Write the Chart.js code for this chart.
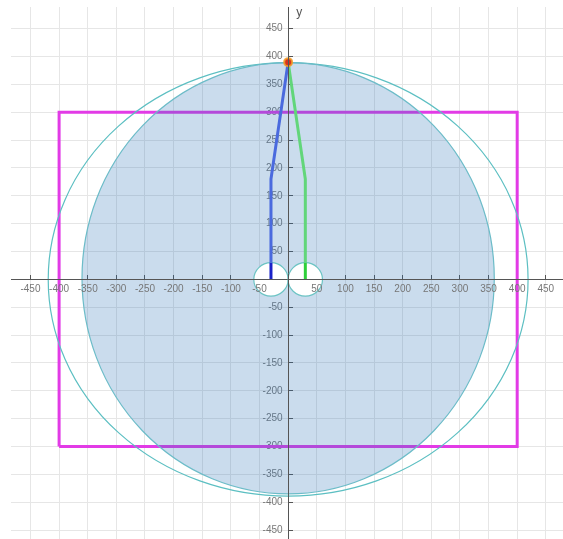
<!DOCTYPE html>
<html>
<head>
    <title>Leg geometry sketch</title>
    <script src="https://cdn.jsdelivr.net/npm/chart.js"></script>
    <style>
        html, body { margin: 0; padding: 0; background: #fff; overflow: hidden; }
        canvas { display: block; }
    </style>
</head>
<body>
    <canvas id="sketch" width="563" height="539"></canvas>

    <script>
        // axis ranges (units)
        const xRange = [-484, 480];
        const yRange = [-466, 489];
        const tickStep = 50;

        // magenta frame corners
        const frameX = [-400, -400, 400, 400, -400];
        const frameY = [-300, 300, 300, -300, -300];

        // ellipses: [cx, cy, rx, ry]
        const outerEllipse = [0, 0, 419, 389];
        const bodyEllipse = [0, 2, 360, 387];
        // joint circles: [cx, cy, r]
        const joints = [[-30, 0, 30], [30, 0, 30]];

        // legs
        const leftLegX = [-30, -30, -30, 0];
        const leftLegY = [0, 30, 180, 390];
        const rightLegX = [30, 30, 30, 0];
        const rightLegY = [0, 30, 180, 390];

        // apex point
        const apex = [0, 390];

        const toPoints = (xs, ys) => xs.map((x, i) => ({ x: x, y: ys[i] }));

        function ellipsePath(chart, cx, cy, rx, ry) {
            const xs = chart.scales.x, ys = chart.scales.y;
            const px = xs.getPixelForValue(cx), py = ys.getPixelForValue(cy);
            const prx = Math.abs(xs.getPixelForValue(cx + rx) - px);
            const pry = Math.abs(ys.getPixelForValue(cy + ry) - py);
            const ctx = chart.ctx;
            ctx.beginPath();
            ctx.ellipse(px, py, prx, pry, 0, 0, Math.PI * 2);
        }

        // shapes go right after the frame so the fill tints it
        const shapesPlugin = {
            id: 'shapes',
            afterDatasetDraw(chart, args) {
                if (chart.data.datasets[args.index].id !== 'frame') return;
                const ctx = chart.ctx;
                const a = chart.chartArea;
                ctx.save();
                ctx.beginPath();
                ctx.rect(a.left, a.top, a.right - a.left, a.bottom - a.top);
                ctx.clip();

                ellipsePath(chart, ...outerEllipse);
                ctx.lineWidth = 1.2;
                ctx.strokeStyle = '#5cbfc2';
                ctx.stroke();

                ellipsePath(chart, ...bodyEllipse);
                ctx.fillStyle = 'rgba(45, 115, 185, 0.25)';
                ctx.fill();
                ctx.strokeStyle = '#6cbcc8';
                ctx.stroke();

                joints.forEach(j => {
                    ellipsePath(chart, j[0], j[1], j[2], j[2]);
                    ctx.fillStyle = '#ffffff';
                    ctx.fill();
                    ctx.strokeStyle = '#6cc4c4';
                    ctx.stroke();
                });
                ctx.restore();
            },
            afterDraw(chart) {
                const ctx = chart.ctx;
                ctx.save();
                ctx.fillStyle = '#555';
                ctx.font = '12px "Liberation Sans", Arial, sans-serif';
                ctx.textBaseline = 'middle';
                ctx.fillText('y', chart.scales.x.getPixelForValue(0) + 8, chart.chartArea.top + 6);
                ctx.restore();
            }
        };

        const legSegment = (dark, light) => ({
            borderColor: c => c.p0DataIndex === 0 ? dark : light
        });

        // axes sit inside the plot, so they should not eat into it
        const noPadding = scale => {
            scale.paddingLeft = 0;
            scale.paddingRight = 0;
            scale.paddingTop = 0;
            scale.paddingBottom = 0;
        };

        const tickFont = { size: 10, family: '"Liberation Sans", Arial, sans-serif' };

        new Chart(document.getElementById('sketch'), {
            type: 'scatter',
            data: {
                datasets: [
                    {
                        data: toPoints([apex[0]], [apex[1]]),
                        pointRadius: 4,
                        pointBackgroundColor: '#d8321e',
                        pointBorderColor: 'rgba(242, 160, 40, 0.85)',
                        pointBorderWidth: 2,
                        order: 0
                    },
                    {
                        data: toPoints(leftLegX, leftLegY),
                        showLine: true,
                        pointRadius: 0,
                        borderWidth: 3,
                        borderColor: '#4a6ade',
                        segment: legSegment('#1a22c8', '#4a6ade'),
                        order: 1
                    },
                    {
                        data: toPoints(rightLegX, rightLegY),
                        showLine: true,
                        pointRadius: 0,
                        borderWidth: 3,
                        borderColor: '#62d67a',
                        segment: legSegment('#2ed03a', '#62d67a'),
                        order: 1
                    },
                    {
                        id: 'frame',
                        data: toPoints(frameX, frameY),
                        showLine: true,
                        pointRadius: 0,
                        borderWidth: 3,
                        borderColor: '#e23be6',
                        order: 5
                    }
                ]
            },
            options: {
                responsive: false,
                animation: false,
                layout: { autoPadding: false, padding: { left: 11, top: 7, right: 0, bottom: 0 } },
                plugins: { legend: { display: false }, tooltip: { enabled: false } },
                scales: {
                    x: {
                        type: 'linear',
                        position: { y: 0 },
                        min: xRange[0],
                        max: xRange[1],
                        afterFit: noPadding,
                        grid: { color: '#e6e6e6', tickColor: '#555', tickLength: -5 },
                        border: { display: true, color: '#555', width: 1, z: 1 },
                        ticks: {
                            stepSize: tickStep,
                            includeBounds: false,
                            maxRotation: 0,
                            autoSkip: false,
                            padding: 9,
                            color: '#777',
                            font: tickFont,
                            z: 1,
                            callback: v => v === 0 ? '' : v
                        }
                    },
                    y: {
                        type: 'linear',
                        position: { x: 0 },
                        min: yRange[0],
                        max: yRange[1],
                        afterFit: noPadding,
                        grid: { color: '#e6e6e6', tickColor: '#555', tickLength: -5 },
                        border: { display: true, color: '#555', width: 1, z: 1 },
                        ticks: {
                            stepSize: tickStep,
                            includeBounds: false,
                            autoSkip: false,
                            color: '#777',
                            font: tickFont,
                            // trailing spaces keep the right-aligned labels off the axis
                            callback: v => v === 0 ? '' : v + '  '
                        }
                    }
                }
            },
            plugins: [shapesPlugin]
        });
    </script>
</body>
</html>
